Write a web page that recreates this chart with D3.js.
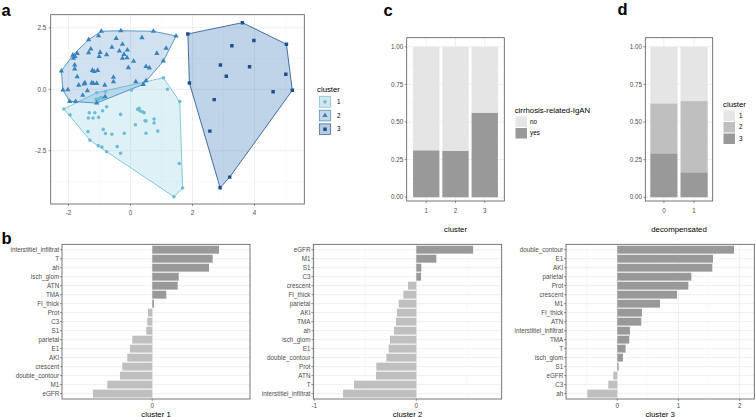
<!DOCTYPE html>
<html><head><meta charset="utf-8">
<script src="https://cdn.jsdelivr.net/npm/d3@7"></script>
<style>body{margin:0;background:#fff;} svg{opacity:0.999;} text{font-family:"Liberation Sans",Arial,Helvetica,sans-serif;}</style>
</head><body><svg id="chart" width="756" height="417"></svg>
<script>
// ---------------- DATA ----------------
// panel a: cluster points (PC1, PC2)
const cluster1Points = [[-2.15,-0.80],[-1.95,-1.04],[-1.33,-0.95],[-1.15,-0.95],[-1.36,-1.17],[-1.21,-1.17],[-1.03,-1.14],[-0.90,-0.87],[-0.77,-0.71],[-1.37,-1.72],[-1.31,-2.07],[-0.88,-1.63],[-0.81,-1.80],[-0.60,-1.83],[-1.04,-2.29],[-0.92,-2.35],[-0.77,-2.54],[-0.43,-2.33],[-0.32,-2.60],[-0.20,-1.79],[-0.32,-1.02],[0.16,-1.44],[0.23,-0.81],[0.28,-0.77],[0.31,-0.88],[0.44,-0.95],[0.47,-1.28],[0.50,-1.79],[0.76,-1.21],[0.76,-1.37],[0.88,-1.70],[0.03,-0.03],[1.19,0.0],[1.06,0.47],[1.59,-0.50],[1.57,-3.02],[1.68,-4.01],[1.40,-4.37],[-1.11,-0.41],[-1.08,-0.46],[-1.02,-0.39],[-0.95,-0.33],[-0.91,-0.35],[-0.81,-0.10],[-1.09,-0.14],[0.39,-0.91],[0.50,-1.29]];
const cluster2Points = [[-0.94,2.36],[-0.31,2.38],[0.74,2.36],[-1.35,2.02],[-1.03,2.18],[-0.46,2.07],[0.37,2.10],[-1.28,1.64],[-1.35,1.49],[-0.98,1.50],[-1.01,1.33],[-0.77,1.41],[-0.60,1.71],[-0.36,1.56],[-0.26,1.83],[-0.21,1.42],[-0.10,1.60],[-0.26,1.26],[-0.11,1.28],[0.10,1.14],[-0.07,0.88],[0.50,0.93],[0.61,0.87],[0.85,1.46],[1.06,1.15],[1.15,1.67],[1.47,2.17],[-1.72,1.46],[-1.86,1.39],[-1.84,1.26],[-1.79,1.33],[-1.80,0.99],[-1.80,0.83],[-2.23,0.74],[-1.72,0.51],[-1.67,0.17],[-1.47,0.26],[-1.50,0.22],[-1.25,0.26],[-1.20,0.24],[-1.23,0.77],[-1.17,0.72],[-1.06,0.77],[-0.83,0.17],[-1.09,0.24],[-0.55,0.49],[-0.55,0.31],[0.17,0.31],[0.41,0.20],[0.50,0.35],[-2.18,-0.03],[-2.02,-0.02],[-1.96,-0.49],[-1.77,-0.50],[-1.54,-0.24],[-1.39,-0.06],[-1.09,-0.56],[-0.82,-0.30]];
const cluster3Points = [[1.85,2.25],[3.61,2.71],[5.03,1.83],[3.98,1.98],[3.27,1.77],[2.90,0.99],[3.84,0.92],[3.09,0.53],[5.01,0.61],[1.90,0.26],[5.22,-0.04],[4.60,-0.10],[2.70,-0.42],[2.56,-1.70],[3.20,-3.57],[2.89,-4.00]];
const clusterNames = ["1","2","3"];
const pcaXTicks = [-2,0,2,4];
const pcaXMinor = [-1,1,3,5];
const pcaYTicks = [-2.5,0,2.5];
const pcaYMinor = [-3.75,-1.25,1.25];

// panel c: cirrhosis-related IgAN by cluster (proportions)
const cirrhosisClusters = ["1","2","3"];
const cirrhosisNo  = [0.688,0.691,0.438];
const cirrhosisYes = [0.312,0.309,0.562];
const cirrhosisLevels = ["no","yes"];

// panel d: cluster composition by decompensated
const decompCategories = ["0","1"];
const decompCluster1 = [0.376,0.361];
const decompCluster2 = [0.332,0.473];
const decompCluster3 = [0.292,0.166];

const propTicks = [0,0.25,0.5,0.75,1];
const propTickLabels = ["0.00","0.25","0.50","0.75","1.00"];
const propMinor = [0.125,0.375,0.625,0.875];

// panel b: feature deviations per cluster
const b1Labels = ["interstitiel_infiltrat","T","ah","isch_glom","ATN","TMA","FI_thick","Prot","C3","S1","parietal","E1","AKI","crescent","double_contour","M1","eGFR"];
const b1Values = [0.654,0.592,0.556,0.259,0.249,0.137,0.017,-0.042,-0.049,-0.059,-0.196,-0.219,-0.245,-0.294,-0.317,-0.441,-0.581];
const b2Labels = ["eGFR","M1","S1","C3","crescent","FI_thick","parietal","AKI","TMA","ah","isch_glom","E1","double_contour","Prot","ATN","T","interstitiel_infiltrat"];
const b2Values = [0.556,0.196,0.049,0.046,-0.082,-0.127,-0.173,-0.190,-0.199,-0.219,-0.258,-0.271,-0.294,-0.392,-0.395,-0.611,-0.719];
const b3Labels = ["double_contour","E1","AKI","parietal","Prot","crescent","M1","FI_thick","ATN","interstitiel_infiltrat","TMA","T","isch_glom","S1","eGFR","C3","ah"];
const b3Values = [1.907,1.564,1.553,1.210,1.161,0.975,0.698,0.403,0.392,0.207,0.196,0.136,0.093,0.022,-0.065,-0.147,-0.490];
const b1Ticks = [0], b1Minor = [];
const b2Ticks = [-1,0], b2Minor = [-0.5,0.5];
const b3Ticks = [0,1,2], b3Minor = [-0.5,0.5,1.5];

// ---------------- STYLE ----------------
const clusterColors = ["#6cbcd6","#3a82ba","#1d4f8e"];
const clusterFills = ["#7cc8de","#4a90c8","#2e6fb5"];
const clusterFillOpacity = [0.25,0.26,0.3];
const greyFills = ["#e5e5e5","#bfbfbf","#999999"];
const tickFS = 6.3, titleFS = 7.8;
const tickCol = "#4d4d4d";
const gridMajor = "#ebebeb", gridMinor = "#f4f4f4";
const borderCol = "#555555";

const svg = d3.select("#chart");

function panelBg(g, x, y) {
  const [x0,x1] = x.range(), [y1,y0] = y.range();
  g.append("rect").attr("x",x0).attr("y",y0).attr("width",x1-x0).attr("height",y1-y0).attr("fill","#fff");
}
function vGrid(g, x, y, vals, col, w) {
  const [y1,y0] = y.range();
  vals.forEach(v => g.append("line").attr("x1",x(v)).attr("x2",x(v)).attr("y1",y0).attr("y2",y1).attr("stroke",col).attr("stroke-width",w));
}
function hGrid(g, x, y, vals, col, w) {
  const [x0,x1] = x.range();
  vals.forEach(v => g.append("line").attr("x1",x0).attr("x2",x1).attr("y1",y(v)).attr("y2",y(v)).attr("stroke",col).attr("stroke-width",w));
}
function border(g, x, y) {
  const [x0,x1] = x.range(), [y1,y0] = y.range();
  g.append("rect").attr("x",x0).attr("y",y0).attr("width",x1-x0).attr("height",y1-y0).attr("fill","none").attr("stroke",borderCol).attr("stroke-width",0.8);
}
function xAxis(g, x, y, vals, labels, baseline) {
  const y1 = y.range()[0];
  vals.forEach((v,i) => {
    g.append("line").attr("x1",x(v)).attr("x2",x(v)).attr("y1",y1).attr("y2",y1+2).attr("stroke","#333").attr("stroke-width",0.5);
    g.append("text").attr("x",x(v)).attr("y",baseline).attr("text-anchor","middle").attr("font-size",tickFS).attr("fill",tickCol).text(labels[i]);
  });
}
function yAxis(g, x, y, vals, labels, gap) {
  const x0 = x.range()[0];
  vals.forEach((v,i) => {
    g.append("line").attr("x1",x0-2).attr("x2",x0).attr("y1",y(v)).attr("y2",y(v)).attr("stroke","#333").attr("stroke-width",0.5);
    g.append("text").attr("x",x0-gap).attr("y",y(v)).attr("dy","0.35em").attr("text-anchor","end").attr("font-size",tickFS).attr("fill",tickCol).text(labels[i]);
  });
}
function letter(t, x, y) {
  svg.append("text").attr("x",x).attr("y",y).attr("font-size",16.5).attr("font-weight","bold").attr("fill","#000").text(t);
}

// ---------------- PANEL A ----------------
{
  const g = svg.append("g");
  const x = d3.scaleLinear().domain([-2.574,5.606]).range([50.7,304.3]);
  const y = d3.scaleLinear().domain([-4.663,3.033]).range([204,14.7]);
  panelBg(g,x,y);
  vGrid(g,x,y,pcaXMinor,gridMinor,0.5); hGrid(g,x,y,pcaYMinor,gridMinor,0.5);
  vGrid(g,x,y,pcaXTicks,gridMajor,0.8); hGrid(g,x,y,pcaYTicks,gridMajor,0.8);
  svg.append("clipPath").attr("id","clipA").append("rect").attr("x",50.7).attr("y",14.7).attr("width",253.6).attr("height",189.3);
  const data = [cluster1Points, cluster2Points, cluster3Points];
  const gc = g.append("g").attr("clip-path","url(#clipA)");
  data.forEach((pts,i) => {
    const hull = d3.polygonHull(pts.map(p => [x(p[0]), y(p[1])]));
    gc.append("path").attr("d","M"+hull.join("L")+"Z").attr("fill",clusterFills[i]).attr("fill-opacity",clusterFillOpacity[i])
      .attr("stroke",clusterColors[i]).attr("stroke-width",0.8);
  });
  const syms = [d3.symbol(d3.symbolCircle,10), d3.symbol(d3.symbolTriangle,12), d3.symbol(d3.symbolSquare,12)];
  data.forEach((pts,i) => {
    gc.selectAll(null).data(pts).join("path").attr("d",syms[i]).attr("transform",d=>`translate(${x(d[0])},${y(d[1])})`)
      .attr("fill",clusterColors[i]);
  });
  border(g,x,y);
  xAxis(g,x,y,pcaXTicks,pcaXTicks.map(String),215);
  yAxis(g,x,y,pcaYTicks,pcaYTicks.map(d=>d.toFixed(1)),4.5);
  // legend
  const lg = svg.append("g");
  lg.append("text").attr("x",317).attr("y",92).attr("font-size",titleFS).attr("fill","#000").text("cluster");
  clusterNames.forEach((n,i) => {
    const ky = 95 + i*13.7;
    lg.append("rect").attr("x",318.5).attr("y",ky+0.5).attr("width",13).attr("height",12.7).attr("fill","#f2f2f2");
    lg.append("rect").attr("x",319.5).attr("y",ky+1.5).attr("width",11).attr("height",10.7).attr("fill",clusterFills[i]).attr("fill-opacity",clusterFillOpacity[i]).attr("stroke",clusterColors[i]).attr("stroke-width",0.6);
    lg.append("path").attr("d",syms[i]).attr("transform",`translate(325,${ky+6.85})`).attr("fill",clusterColors[i]);
    lg.append("text").attr("x",337).attr("y",ky+6.85).attr("dy","0.35em").attr("font-size",tickFS).attr("fill","#000").text(n);
  });
}
letter("a",1.5,15.5);

// ---------------- PANEL C ----------------
function stackedPanel(cats, series, fills, xr, xPad, axisTitle, titleX) {
  const g = svg.append("g");
  const x = d3.scalePoint().domain(cats).range(xr).padding(xPad);
  const y = d3.scaleLinear().domain([-0.025,1.06]).range([201,37.7]);
  panelBg(g,x,y);
  hGrid(g,x,y,propMinor,gridMinor,0.5);
  hGrid(g,x,y,propTicks,gridMajor,0.8);
  vGrid(g,x,y,cats,gridMajor,0.8);
  const bw = x.step()*0.9;
  cats.forEach((c,ci) => {
    let acc = 0;
    for (let s = series.length-1; s >= 0; s--) {
      const v = series[s][ci];
      g.append("rect").attr("x",x(c)-bw/2).attr("width",bw).attr("y",y(acc+v)).attr("height",y(acc)-y(acc+v)).attr("fill",fills[s]);
      acc += v;
    }
  });
  border(g,x,y);
  xAxis(g,x,y,cats,cats,213.3);
  yAxis(g,x,y,propTicks,propTickLabels,3.4);
  g.append("text").attr("x",titleX).attr("y",231.5).attr("text-anchor","middle").attr("font-size",titleFS).attr("fill","#000").text(axisTitle);
  return g;
}
stackedPanel(cirrhosisClusters,[cirrhosisNo,cirrhosisYes],[greyFills[0],greyFills[2]],[406.7,504.3],0.668,"cluster",455.5);
{
  const lg = svg.append("g");
  lg.append("text").attr("x",514.7).attr("y",113).attr("font-size",titleFS).attr("fill","#000").text("cirrhosis-related-IgAN");
  cirrhosisLevels.forEach((n,i) => {
    const ky = 116 + i*11.5;
    lg.append("rect").attr("x",515.5).attr("y",ky+0.5).attr("width",11.5).attr("height",10.5).attr("fill",i===0?greyFills[0]:greyFills[2]);
    lg.append("text").attr("x",530).attr("y",ky+5.75).attr("dy","0.35em").attr("font-size",tickFS).attr("fill","#000").text(n);
  });
}
letter("c",383.5,15.5);

// ---------------- PANEL D ----------------
stackedPanel(decompCategories,[decompCluster1,decompCluster2,decompCluster3],greyFills,[645.3,712.7],0.616,"decompensated",679);
{
  const lg = svg.append("g");
  lg.append("text").attr("x",723).attr("y",107).attr("font-size",titleFS).attr("fill","#000").text("cluster");
  clusterNames.forEach((n,i) => {
    const ky = 110 + i*11.5;
    lg.append("rect").attr("x",723.5).attr("y",ky+0.5).attr("width",11.5).attr("height",10.5).attr("fill",greyFills[i]);
    lg.append("text").attr("x",739).attr("y",ky+5.75).attr("dy","0.35em").attr("font-size",tickFS).attr("fill","#000").text(n);
  });
}
letter("d",617.5,15);

// ---------------- PANEL B ----------------
function barPanel(labels, values, domain, xr, ticks, minor, title, labelGap) {
  const g = svg.append("g");
  const x = d3.scaleLinear().domain(domain).range(xr);
  const y = d3.scalePoint().domain(labels).range([244.3,399]).padding(0.6);
  const yy = d3.scaleLinear().range([399,244.3]);
  panelBg(g,x,yy);
  vGrid(g,x,yy,minor,gridMinor,0.5);
  vGrid(g,x,yy,ticks,gridMajor,0.8);
  labels.forEach(l => g.append("line").attr("x1",xr[0]).attr("x2",xr[1]).attr("y1",y(l)).attr("y2",y(l)).attr("stroke",gridMajor).attr("stroke-width",0.8));
  const bh = y.step()*0.88;
  g.selectAll(null).data(labels.map((l,i)=>({l, v:values[i]}))).join("rect")
    .attr("x",d => x(Math.min(0,d.v))).attr("width",d => Math.abs(x(d.v)-x(0)))
    .attr("y",d => y(d.l)-bh/2).attr("height",bh)
    .attr("fill",d => d.v >= 0 ? greyFills[2] : greyFills[1]);
  border(g,x,yy);
  xAxis(g,x,yy,ticks,ticks.map(String),407.7);
  labels.forEach(l => {
    g.append("line").attr("x1",xr[0]-2).attr("x2",xr[0]).attr("y1",y(l)).attr("y2",y(l)).attr("stroke","#333").attr("stroke-width",0.5);
    g.append("text").attr("x",xr[0]-labelGap).attr("y",y(l)).attr("dy","0.35em").attr("text-anchor","end").attr("font-size",tickFS).attr("fill",tickCol).text(l);
  });
  g.append("text").attr("x",(xr[0]+xr[1])/2).attr("y",416.5).attr("text-anchor","middle").attr("font-size",titleFS).attr("fill","#000").text(title);
}
barPanel(b1Labels,b1Values,[-0.885,0.958],[62,250],b1Ticks,b1Minor,"cluster 1",2.8);
barPanel(b2Labels,b2Values,[-1.01,0.837],[313.3,501.7],b2Ticks,b2Minor,"cluster 2",2.8);
barPanel(b3Labels,b3Values,[-0.838,2.239],[566,754.3],b3Ticks,b3Minor,"cluster 3",2.8);
letter("b",1.5,244);
</script></body></html>
